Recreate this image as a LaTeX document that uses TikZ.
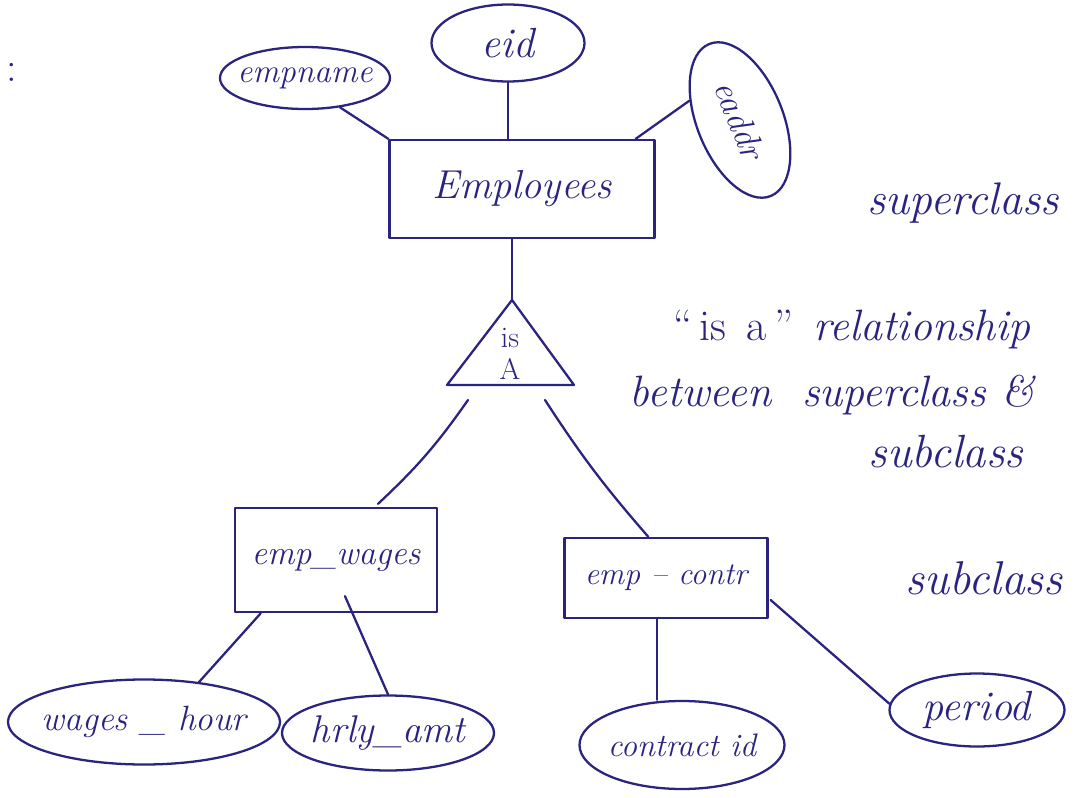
\documentclass[tikz,border=0pt]{standalone}
\usetikzlibrary{shapes.geometric,calc}
\definecolor{ink}{RGB}{42,36,128}
\newcommand{\hw}[1]{\itshape\fontsize{#1}{#1}\selectfont}
\tikzset{
  pen/.style={draw=ink,line width=1.3pt,line cap=round,line join=round},
  attr/.style={pen,ellipse,inner sep=0pt},
  entity/.style={pen,rectangle,inner sep=0pt,text=ink},
  note/.style={text=ink,inner sep=0pt,anchor=center},
  inside/.style={text=ink,inner sep=0pt},
}
\begin{document}
\begin{tikzpicture}[x=0.02cm,y=-0.02cm]
\useasboundingbox (0,0) rectangle (1080,798);

% superclass and its attributes
\node[entity,minimum width=265*0.02cm,minimum height=98*0.02cm,font=\hw{23}] (emp) at (522,189) {Employees};
\node[attr,minimum width=170*0.02cm,minimum height=62*0.02cm,
      label={[inside,font=\hw{19}]center:empname}] (ename) at (305,78) {};
\node[attr,minimum width=153*0.02cm,minimum height=77*0.02cm,
      label={[inside,font=\hw{24}]center:eid}] (eid) at (508,43) {};
\node[attr,rotate=-68,minimum width=164*0.02cm,minimum height=86*0.02cm,
      label={[inside,rotate=-68,font=\hw{20}]center:eaddr}] (eaddr) at (740,120) {};

\draw[pen] (ename.-40) -- (emp.north west);
\draw[pen] (eid.south) -- (eid.south |- emp.north);
\draw[pen] (eaddr.227) -- ($(emp.north east)+(-20,0)$);

% specialisation triangle
\coordinate (tA) at (512,300);
\coordinate (tL) at (447,385);
\coordinate (tR) at (574,385);
\draw[pen] (tA) -- (tL) -- (tR) -- cycle;
\node[note,font=\fontsize{17}{19}\selectfont,align=center] (isa) at (510,354) {is\\[-1pt]A};
\draw[pen] (tA |- emp.south) -- (tA);

% subclasses
\node[entity,minimum width=202*0.02cm,minimum height=104*0.02cm,font=\hw{19.5}] (wages) at (336,560) {emp\_wages};
\node[entity,minimum width=203*0.02cm,minimum height=80*0.02cm,font=\hw{18}] (contr) at (666,578) {emp -- contr};

\coordinate (sL) at (468,400);
\coordinate (sR) at (545,400);
\draw[pen] (sL) to[bend left=6] ($(wages.north)+(42,-3)$);
\draw[pen] (sR) to[bend right=4] ($(contr.north west)+(85,0)$);

% subclass attributes
\node[attr,minimum width=272*0.02cm,minimum height=85*0.02cm,
      label={[inside,font=\hw{20}]center:wages \_ hour}] (whour) at (144,722) {};
\node[attr,minimum width=212*0.02cm,minimum height=75*0.02cm,
      label={[inside,font=\hw{22}]center:hrly\_amt}] (hrly) at (388,733) {};
\node[attr,minimum width=205*0.02cm,minimum height=88*0.02cm,
      label={[inside,font=\hw{18.5}]center:contract id}] (cid) at (682,745) {};
\node[attr,minimum width=175*0.02cm,minimum height=73*0.02cm,
      label={[inside,font=\hw{24}]center:period}] (period) at (977,710) {};

\draw[pen] ($(wages.south west)+(27,0)$) -- (whour.36);
\draw[pen] ($(wages.south)+(9,-17)$) -- (hrly.north);
\coordinate (cdrop) at ($(contr.south)+(-9,0)$);
\draw[pen] (cdrop) -- (cdrop |- cid.north);
\draw[pen] ($(contr.east)+(2,22)$) -- (period.176);

% side notes
\node[note,font=\hw{26}] (sup) at (963,203) {superclass};
\node[note,font=\fontsize{25}{28}\selectfont] (rel1) at (852,330) {``\,is\, a\,'' \,\itshape relationship};
\node[note,font=\hw{25}] (rel2) at (832,395) {between \ superclass \&};
\node[note,font=\hw{26.5}] (rel3) at (946,452) {subclass};
\node[note,font=\hw{27}] (sub) at (984,578) {subclass};
\node[note,font=\fontsize{24}{24}\selectfont] (colon) at (12,72) {:};
\end{tikzpicture}
\end{document}
